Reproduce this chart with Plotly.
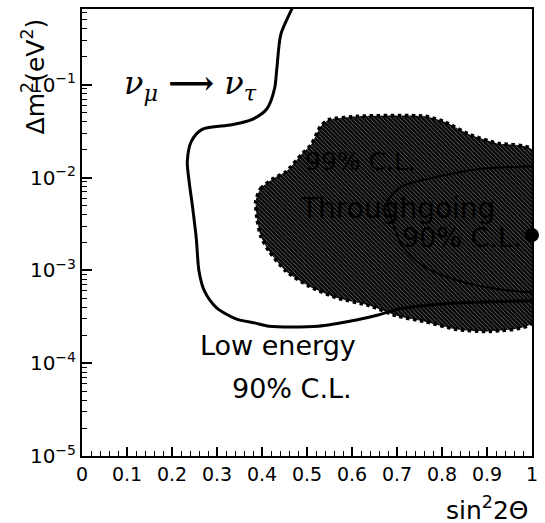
import plotly.graph_objects as go

# Low-energy 90% C.L. contour (sin^2 2theta, dm^2 in eV^2)
low_x = [0.483, 0.466, 0.442, 0.433, 0.428, 0.411, 0.377, 0.333, 0.267, 0.243, 0.234,
         0.238, 0.245, 0.254, 0.260, 0.272, 0.298, 0.342, 0.386, 0.415, 0.525, 0.607,
         0.658, 0.702, 0.768, 0.857, 1.0]
low_dm2 = [1.0, 0.65, 0.35, 0.15, 0.091, 0.055, 0.042, 0.037, 0.033, 0.0245, 0.0148,
           0.0091, 0.0051, 0.0022, 0.00098, 0.0006, 0.0004, 0.0003, 0.00027, 0.00025,
           0.00025, 0.00029, 0.00033, 0.00038, 0.00042, 0.00045, 0.00047]

# Throughgoing 99% C.L. region
thr99_x = [0.386, 0.397, 0.426, 0.453, 0.488, 0.510, 0.530, 0.547, 0.614, 0.762, 0.806,
           0.863, 0.923, 1.0, 1.0, 0.907, 0.834, 0.762, 0.702, 0.636, 0.563, 0.503,
           0.453, 0.415, 0.397, 0.389, 0.386]
thr99_dm2 = [0.0056, 0.0076, 0.0098, 0.0115, 0.0178, 0.0229, 0.0355, 0.0417, 0.0457,
             0.0457, 0.0398, 0.0288, 0.0234, 0.020, 0.00027, 0.00022, 0.00023, 0.00028,
             0.00032, 0.00042, 0.00051, 0.00068, 0.00098, 0.00162, 0.00234, 0.00355, 0.0056]

# Throughgoing 90% C.L. contour
thr90_x = [1.0, 0.879, 0.790, 0.713, 0.680, 0.691, 0.713, 0.757, 0.834, 0.923, 1.0]
thr90_dm2 = [0.0132, 0.0123, 0.0102, 0.0081, 0.0056, 0.0032, 0.0018, 0.00112, 0.00078,
             0.00063, 0.00058]

# Best-fit point
best_x = [1.0]
best_dm2 = [0.0024]

x_tickvals = [0, 0.1, 0.2, 0.3, 0.4, 0.5, 0.6, 0.7, 0.8, 0.9, 1.0]
x_ticktext = ["0", "0.1", "0.2", "0.3", "0.4", "0.5", "0.6", "0.7", "0.8", "0.9", "1"]
y_tickvals = [1e-5, 1e-4, 1e-3, 1e-2, 1e-1]
y_ticktext = ["10<sup>−5</sup>", "10<sup>−4</sup>", "10<sup>−3</sup>",
              "10<sup>−2</sup>", "10<sup>−1</sup>"]
y_minor = [m * 10.0 ** e for e in range(-5, 0) for m in range(2, 10)]

FONT = "DejaVu Sans"

fig = go.Figure()

fig.add_trace(go.Scatter(
    x=thr99_x, y=thr99_dm2, mode="lines", fill="toself",
    line=dict(color="black", width=3.5, dash="dot", shape="spline", smoothing=0.6),
    fillcolor="#111111",
    fillpattern=dict(shape="\\", bgcolor="#080808", fgcolor="#e6e6e6",
                     size=3, solidity=0.25),
    hoverinfo="skip", showlegend=False))

fig.add_trace(go.Scatter(
    x=thr90_x, y=thr90_dm2, mode="lines",
    line=dict(color="black", width=2, shape="spline", smoothing=0.8),
    hoverinfo="skip", showlegend=False))

fig.add_trace(go.Scatter(
    x=low_x, y=low_dm2, mode="lines",
    line=dict(color="black", width=3, shape="spline", smoothing=0.8),
    hoverinfo="skip", showlegend=False))

fig.add_trace(go.Scatter(
    x=best_x, y=best_dm2, mode="markers", cliponaxis=False,
    marker=dict(color="black", size=14),
    hoverinfo="skip", showlegend=False))

# Texts
fig.add_annotation(x=0.24, y=-1.0, xref="x", yref="y",
                   text="<i>ν<sub>μ</sub></i> <b>⟶</b> <i>ν<sub>τ</sub></i>",
                   showarrow=False, font=dict(family="DejaVu Serif", size=32, color="black"))
fig.add_annotation(x=0.435, y=-3.81, xref="x", yref="y", text="Low energy",
                   showarrow=False, font=dict(family=FONT, size=27, color="black"))
fig.add_annotation(x=0.466, y=-4.27, xref="x", yref="y", text="90% C.L.",
                   showarrow=False, font=dict(family=FONT, size=27, color="black"))
fig.add_annotation(x=0.618, y=-1.83, xref="x", yref="y", text="99% C.L.",
                   showarrow=False, font=dict(family=FONT, size=25, color="black"))
fig.add_annotation(x=0.702, y=-2.33, xref="x", yref="y", text="Throughgoing",
                   showarrow=False, font=dict(family=FONT, size=28, color="black"))
fig.add_annotation(x=0.845, y=-2.65, xref="x", yref="y", text="90% C.L.",
                   showarrow=False, font=dict(family=FONT, size=27, color="black"))

# Axis titles
fig.add_annotation(x=-0.108, y=0.85, xref="paper", yref="paper", textangle=-90,
                   xanchor="center", yanchor="middle",
                   text="Δm<sup>2</sup>(eV<sup>2</sup>)", showarrow=False,
                   font=dict(family=FONT, size=25, color="black"))
fig.add_annotation(x=0.90, y=-0.118, xref="paper", yref="paper",
                   xanchor="center", yanchor="middle",
                   text="sin<sup>2</sup>2Θ", showarrow=False,
                   font=dict(family=FONT, size=25, color="black"))

fig.update_xaxes(range=[0, 1], tickvals=x_tickvals, ticktext=x_ticktext,
                 ticks="inside", ticklen=9, tickwidth=1.5, tickcolor="black",
                 minor=dict(dtick=0.02, ticks="inside", ticklen=5, tickwidth=1, tickcolor="black"),
                 showline=True, linecolor="black", linewidth=2, mirror=True,
                 showgrid=False, zeroline=False, ticklabeloverflow="allow",
                 tickfont=dict(family=FONT, size=19, color="black"))
fig.update_yaxes(type="log", range=[-5, -0.185], tickvals=y_tickvals, ticktext=y_ticktext,
                 ticks="inside", ticklen=10, tickwidth=1.5, tickcolor="black",
                 minor=dict(tickvals=y_minor, ticks="inside", ticklen=5, tickwidth=1, tickcolor="black"),
                 showline=True, linecolor="black", linewidth=2, mirror=True,
                 showgrid=False, zeroline=False,
                 tickfont=dict(family=FONT, size=20, color="black"))

fig.update_layout(width=545, height=523, margin=dict(l=82, r=10, t=7, b=67),
                  paper_bgcolor="white", plot_bgcolor="white")

fig.write_html("out.html", config={"displayModeBar": False},
               post_script="document.body.style.margin='0';document.body.style.overflow='hidden';")
